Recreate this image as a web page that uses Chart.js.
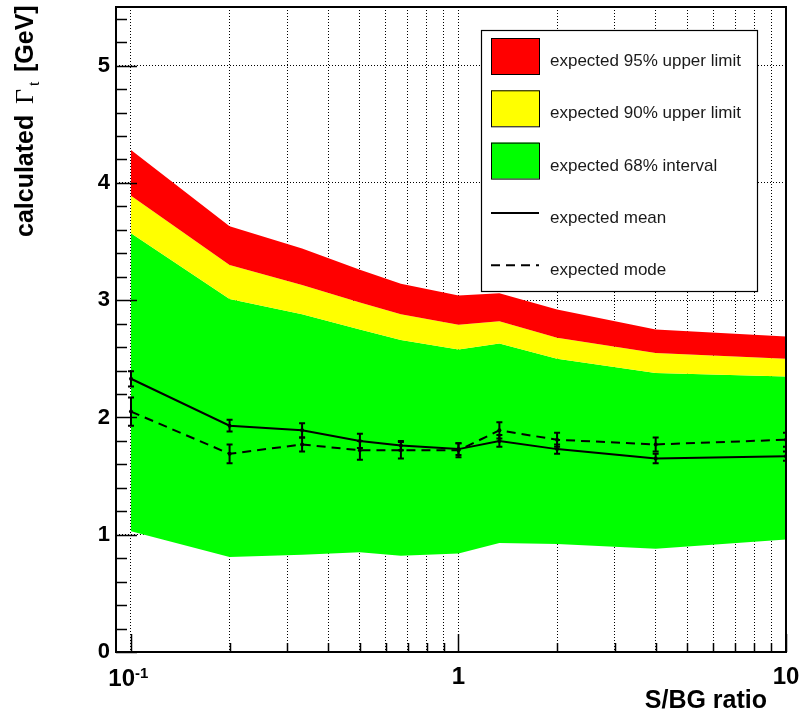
<!DOCTYPE html>
<html>
<head>
<meta charset="utf-8">
<script src="https://cdn.jsdelivr.net/npm/chart.js@4.4.0/dist/chart.umd.min.js"></script>
<style>
  body { margin: 0; background: #fff; }
  canvas { display: block; }
</style>
</head>
<body>
<canvas id="limitChart" width="802" height="720"></canvas>
<script>
// values
const ratios = [0.1, 0.2, 0.333, 0.5, 0.667, 1, 1.333, 2, 4, 10]
const upper95 = [4.28, 3.63, 3.44, 3.26, 3.14, 3.04, 3.06, 2.92, 2.75, 2.69]
const upper90 = [3.89, 3.30, 3.13, 2.98, 2.88, 2.79, 2.82, 2.68, 2.55, 2.50]
const band68Hi = [3.57, 3.01, 2.88, 2.75, 2.66, 2.58, 2.63, 2.50, 2.38, 2.35]
const band68Lo = [1.03, 0.81, 0.83, 0.85, 0.82, 0.84, 0.93, 0.92, 0.88, 0.96]
const mean = [2.33, 1.93, 1.89, 1.80, 1.76, 1.73, 1.80, 1.73, 1.65, 1.67]
const meanErr = [0.065, 0.05, 0.06, 0.06, 0.04, 0.05, 0.05, 0.04, 0.04, 0.04]
const mode = [2.05, 1.69, 1.77, 1.72, 1.72, 1.72, 1.89, 1.81, 1.77, 1.81]
const modeErr = [0.12, 0.08, 0.06, 0.08, 0.07, 0.06, 0.07, 0.06, 0.06, 0.06]

const xTickVals = [0.1, 0.2, 0.3, 0.4, 0.5, 0.6, 0.7, 0.8, 0.9, 1, 2, 3, 4, 5, 6, 7, 8, 9, 10]
const xTickLabels = { 0.1: '', 1: '1', 10: '10' }
const yTickVals = [0, 1, 2, 3, 4, 5]

const legendItems = [
    { text: 'expected 95% upper limit', color: '#ff0000', kind: 'box' },
    { text: 'expected 90% upper limit', color: '#ffff00', kind: 'box' },
    { text: 'expected 68% interval', color: '#00ff00', kind: 'box' },
    { text: 'expected mean', kind: 'line' },
    { text: 'expected mode', kind: 'dash' }
]

const FONT = "'Liberation Sans', Arial, sans-serif"
const DASH = [9, 6]

function pts(values) {
    return ratios.map((r, i) => ({ x: r, y: values[i] }))
}

const bandStyle = { borderWidth: 0, pointRadius: 0, tension: 0 }

//error bars on mean and mode
const errorBarPlugin = {
    id: 'errorBars',
    afterDatasetsDraw(chart) {
        const ctx = chart.ctx
        const xs = chart.scales.x
        const ys = chart.scales.y
        const a = chart.chartArea
        ctx.save()
        ctx.beginPath()
        ctx.rect(a.left, a.top, a.right - a.left, a.bottom - a.top)
        ctx.clip()
        ctx.strokeStyle = '#000'
        ctx.lineWidth = 2
        const sets = [[mean, meanErr], [mode, modeErr]]
        sets.forEach(([vals, errs]) => {
            ratios.forEach((r, i) => {
                const px = xs.getPixelForValue(r)
                const top = ys.getPixelForValue(vals[i] + errs[i])
                const bot = ys.getPixelForValue(vals[i] - errs[i])
                ctx.beginPath()
                ctx.moveTo(px, top); ctx.lineTo(px, bot)
                ctx.moveTo(px - 3, top); ctx.lineTo(px + 3, top)
                ctx.moveTo(px - 3, bot); ctx.lineTo(px + 3, bot)
                ctx.stroke()
            })
        })
        ctx.restore()
    }
}

//frame, inward ticks, axis titles and legend box
const decorPlugin = {
    id: 'decor',
    afterDraw(chart) {
        const ctx = chart.ctx
        const xs = chart.scales.x
        const ys = chart.scales.y
        const a = chart.chartArea
        ctx.save()

        // ticks
        ctx.strokeStyle = '#000'
        ctx.lineWidth = 1.5
        ctx.beginPath()
        xTickVals.forEach(v => {
            const px = Math.round(xs.getPixelForValue(v)) + 0.5
            const len = v in xTickLabels ? 18 : 9
            ctx.moveTo(px, a.bottom); ctx.lineTo(px, a.bottom - len)
        })
        for (let i = 0; i <= 27; i++) {
            const py = Math.round(ys.getPixelForValue(i * 0.2)) + 0.5
            const len = i % 5 === 0 ? 21 : 11
            ctx.moveTo(a.left, py); ctx.lineTo(a.left + len, py)
        }
        ctx.stroke()

        // frame
        ctx.lineWidth = 2
        ctx.strokeRect(a.left, a.top, a.right - a.left, a.bottom - a.top)

        // 10^-1 label
        ctx.fillStyle = '#000'
        ctx.textBaseline = 'alphabetic'
        const x01 = xs.getPixelForValue(0.1)
        ctx.font = 'bold 24px ' + FONT
        ctx.textAlign = 'right'
        ctx.fillText('10', x01 + 4, 686)
        ctx.font = 'bold 15px ' + FONT
        ctx.textAlign = 'left'
        ctx.fillText('-1', x01 + 4, 678)

        // x title
        ctx.font = 'bold 25px ' + FONT
        ctx.textAlign = 'right'
        ctx.fillText('S/BG ratio', 767, 708)

        // y title, rotated
        ctx.save()
        ctx.translate(33, 237)
        ctx.rotate(-Math.PI / 2)
        ctx.textAlign = 'left'
        ctx.font = 'bold 25px ' + FONT
        ctx.fillText('calculated', 0, 0)
        ctx.font = "26px 'Liberation Serif', serif"
        ctx.fillText('\u0393', 133, 0)
        ctx.font = "16px 'Liberation Serif', serif"
        ctx.fillText('t', 151, 6)
        ctx.font = 'bold 25px ' + FONT
        ctx.fillText('[GeV]', 165, 0)
        ctx.restore()

        // legend
        const lx = 481, ly = 30, lw = 276, lh = 261
        ctx.fillStyle = '#fff'
        ctx.fillRect(lx, ly, lw, lh)
        ctx.lineWidth = 1.2
        ctx.strokeStyle = '#000'
        ctx.strokeRect(lx + 0.5, ly + 0.5, lw, lh)
        ctx.font = '17px ' + FONT
        ctx.textAlign = 'left'
        ctx.textBaseline = 'middle'
        legendItems.forEach((item, i) => {
            const cy = 56 + i * 52.3
            if (item.kind === 'box') {
                ctx.fillStyle = item.color
                ctx.fillRect(491, cy - 18, 48, 36)
                ctx.lineWidth = 1
                ctx.strokeStyle = '#000'
                ctx.strokeRect(491.5, cy - 17.5, 48, 36)
            } else {
                ctx.lineWidth = 2
                ctx.strokeStyle = '#000'
                ctx.setLineDash(item.kind === 'dash' ? DASH : [])
                ctx.beginPath()
                ctx.moveTo(491, cy); ctx.lineTo(539, cy)
                ctx.stroke()
                ctx.setLineDash([])
            }
            ctx.fillStyle = '#1a1a1a'
            ctx.fillText(item.text, 550, cy + 5.5)
        })

        ctx.restore()
    }
}

const limitData = {
    datasets: [
        { label: '95', data: pts(upper95), backgroundColor: '#ff0000', fill: '+1', ...bandStyle },
        { label: '90', data: pts(upper90), backgroundColor: '#ffff00', fill: '+1', ...bandStyle },
        { label: '68hi', data: pts(band68Hi), backgroundColor: '#00ff00', fill: '+1', ...bandStyle },
        { label: '68lo', data: pts(band68Lo), fill: false, ...bandStyle },
        {
            label: 'mean', data: pts(mean), fill: false, tension: 0,
            borderColor: '#000', borderWidth: 2,
            pointRadius: 2, pointBackgroundColor: '#000', pointBorderWidth: 0
        },
        {
            label: 'mode', data: pts(mode), fill: false, tension: 0,
            borderColor: '#000', borderWidth: 2, borderDash: DASH,
            pointRadius: 2, pointBackgroundColor: '#000', pointBorderWidth: 0
        }
    ]
}

const limitConfig = {
    type: 'line',
    data: limitData,
    options: {
        responsive: false,
        animation: false,
        layout: { padding: { top: 7, right: 16, left: 0, bottom: 0 } },
        plugins: {
            legend: { display: false },
            tooltip: { enabled: false },
            filler: { drawTime: 'beforeDatasetsDraw' }
        },
        scales: {
            x: {
                type: 'logarithmic',
                min: 0.09,
                max: 10,
                afterBuildTicks: scale => { scale.ticks = xTickVals.map(v => ({ value: v })) },
                afterFit: scale => {
                    scale.height = 68
                    scale.paddingLeft = 0
                    scale.paddingRight = 0
                },
                ticks: {
                    autoSkip: false,
                    maxRotation: 0,
                    padding: 11,
                    color: '#000',
                    font: { family: FONT, size: 24, weight: 'bold' },
                    callback: v => xTickLabels[v] || ''
                },
                grid: { color: '#000', lineWidth: 1, drawTicks: false },
                border: { display: false, dash: [1, 2] }
            },
            y: {
                min: 0,
                max: 5.5,
                afterBuildTicks: scale => { scale.ticks = yTickVals.map(v => ({ value: v })) },
                afterFit: scale => {
                    scale.width = 116
                    scale.paddingTop = 0
                    scale.paddingBottom = 0
                },
                ticks: {
                    padding: 6,
                    color: '#000',
                    font: { family: FONT, size: 22, weight: 'bold' }
                },
                grid: { color: '#000', lineWidth: 1, drawTicks: false },
                border: { display: false, dash: [1, 2] }
            }
        }
    },
    plugins: [errorBarPlugin, decorPlugin]
}

const limitChart = new Chart(
    document.getElementById('limitChart'),
    limitConfig
)
</script>
</body>
</html>
